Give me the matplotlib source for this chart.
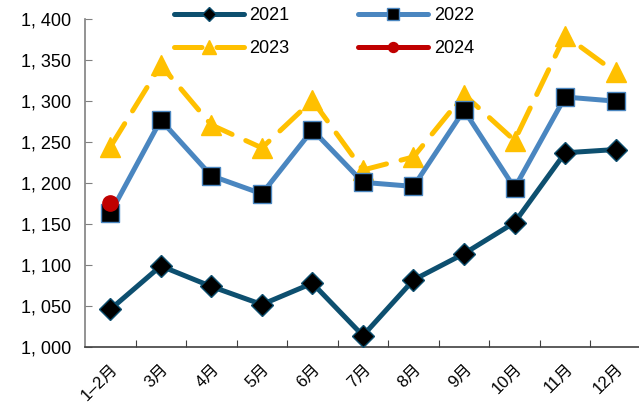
import matplotlib
matplotlib.use("Agg")
import matplotlib.pyplot as plt
from matplotlib.ticker import FuncFormatter

categories = ["1–2月", "3月", "4月", "5月", "6月", "7月", "8月", "9月", "10月", "11月", "12月"]
s2021 = [1046, 1099, 1074, 1052, 1078, 1014, 1082, 1114, 1152, 1237, 1241]
s2022 = [1163, 1277, 1209, 1187, 1265, 1201, 1196, 1289, 1194, 1305, 1300]
s2023 = [1244, 1344, 1271, 1243, 1301, 1216, 1232, 1308, 1252, 1380, 1335]
s2024 = [1176]

plt.rcParams['font.family'] = ['Liberation Sans', 'Noto Sans CJK SC', 'DejaVu Sans']

fig = plt.figure(figsize=(6.39, 4.07), dpi=100)
ax = fig.add_axes([0.133, 0.147, 0.87, 0.806])

x = list(range(len(categories)))
h1, = ax.plot(x, s2021, color='#0D4F6F', lw=3.6, marker='D', ms=11, mfc='black',
              mec='#0D4F6F', mew=1, label='2021', zorder=3, solid_capstyle='round')
h2, = ax.plot(x, s2022, color='#4A86C0', lw=3.6, marker='s', ms=13, mfc='black',
              mec='#4A86C0', mew=1, label='2022', zorder=3, solid_capstyle='round')
h3, = ax.plot(x, s2023, color='#FFC000', lw=3.6, ls=(0, (5.5, 3)), dash_capstyle='round',
              marker='^', ms=15, mfc='#FFC000', mec='#FFC000', label='2023', zorder=2)
h4, = ax.plot(x[:len(s2024)], s2024, color='#C00000', lw=3.6, marker='o', ms=11,
              mfc='#C00000', mec='#C00000', label='2024', zorder=4, solid_capstyle='round')

ax.set_xlim(-0.5, len(categories) - 0.5)
ax.set_ylim(1000, 1400)
ax.set_yticks(range(1000, 1401, 50))
ax.yaxis.set_major_formatter(FuncFormatter(lambda v, p: f"{int(v)//1000}, {int(v)%1000:03d}"))
ax.set_xticks([i + 0.5 for i in x[:-1]], minor=False)
ax.set_xticklabels([])
ax.set_xticks(x, minor=True)
ax.set_xticklabels(categories, minor=True, rotation=45, ha='right',
                   rotation_mode='anchor', fontsize=12)
ax.tick_params(axis='x', which='minor', length=0, pad=10)
ax.tick_params(axis='x', which='major', direction='in', length=5, color='#404040')
ax.tick_params(axis='y', direction='in', length=5, color='#808080', labelsize=13, pad=10)

for s in ['top', 'right']:
    ax.spines[s].set_visible(False)
ax.spines['left'].set_color('#808080')
ax.spines['left'].set_linewidth(1.2)
ax.spines['bottom'].set_color('#404040')
ax.spines['bottom'].set_linewidth(1.2)

leg = ax.legend([h1, h3, h2, h4], ['2021', '2023', '2022', '2024'], ncol=2,
                loc='upper left', bbox_to_anchor=(0.13, 1.085), frameon=False,
                fontsize=13, handlelength=3.9, markerscale=0.65, columnspacing=3.8,
                labelspacing=0.85, handletextpad=0.3)

fig.savefig("out.png", dpi=100)
